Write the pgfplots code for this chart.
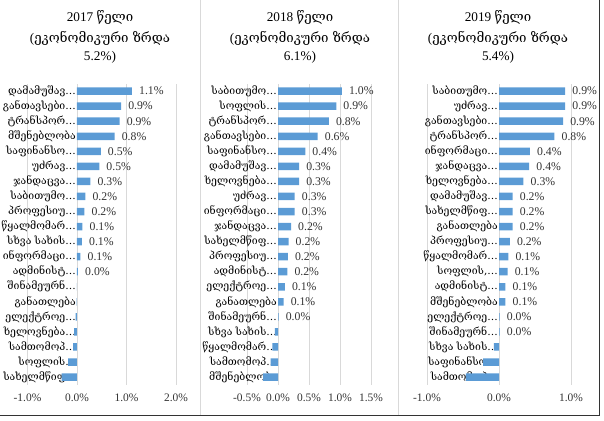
\documentclass[border=0pt]{standalone}
\usepackage{fontspec}
\setmainfont{Liberation Serif}
\newfontfamily\geo{DejaVu Serif}
\usepackage{pgfplots}
\usepackage{pgfplotstable}
\pgfplotsset{compat=1.18}
\definecolor{barblue}{HTML}{5B9BD5}
\definecolor{gridgray}{HTML}{D9D9D9}
\definecolor{txt}{HTML}{333333}

\pgfplotstableread{
i v lab
1 1.11 1.1\%
2 0.89 0.9\%
3 0.86 0.9\%
4 0.76 0.8\%
5 0.48 0.5\%
6 0.45 0.5\%
7 0.27 0.3\%
8 0.17 0.2\%
9 0.15 0.2\%
10 0.11 0.1\%
11 0.10 0.1\%
12 0.07 0.1\%
13 0.02 0.0\%
}\posA
\pgfplotstableread{
i v
14 -0.004
15 -0.01
16 -0.03
17 -0.06
18 -0.08
19 -0.18
20 -0.31
}\negA
\pgfplotstableread{
i v lab
1 1.03 1.0\%
2 0.94 0.9\%
3 0.82 0.8\%
4 0.64 0.6\%
5 0.44 0.4\%
6 0.34 0.3\%
7 0.34 0.3\%
8 0.27 0.3\%
9 0.27 0.3\%
10 0.21 0.2\%
11 0.17 0.2\%
12 0.16 0.2\%
13 0.15 0.2\%
14 0.11 0.1\%
15 0.09 0.1\%
16 0.01 0.0\%
}\posB
\pgfplotstableread{
i v
17 -0.05
18 -0.09
19 -0.12
20 -0.24
}\negB
\pgfplotstableread{
i v lab
1 0.92 0.9\%
2 0.92 0.9\%
3 0.89 0.9\%
4 0.77 0.8\%
5 0.43 0.4\%
6 0.42 0.4\%
7 0.34 0.3\%
8 0.19 0.2\%
9 0.19 0.2\%
10 0.19 0.2\%
11 0.15 0.2\%
12 0.13 0.1\%
13 0.12 0.1\%
14 0.09 0.1\%
15 0.09 0.1\%
16 0.01 0.0\%
17 0.01 0.0\%
}\posC
\pgfplotstableread{
i v
18 -0.07
19 -0.22
20 -0.46
}\negC

\pgfplotsset{panel/.style={
  scale only axis, xbar, bar shift=0pt, bar width=7.5bp,
  ymin=0.5, ymax=20.5, height=301bp,
  anchor=south west,
  ytick={1,...,20}, major tick length=0pt,
  xmajorgrids, grid style={gridgray, line width=0.6bp},
  axis line style={draw=none},
  xticklabel={\pgfmathprintnumber[fixed,fixed zerofill,precision=1]{\tick}\%},
  /pgf/number format/assume math mode=true,
  xticklabel style={font=\fontsize{11.5}{13}\selectfont, text=txt, yshift=-6bp},
  yticklabel style={font=\geo\fontsize{10.5}{12}\selectfont, text=black, inner sep=1bp},
  clip=false,
}}
\pgfplotsset{posbar/.style={fill=barblue, draw=none,
  nodes near coords, point meta=explicit symbolic,
  every node near coord/.append style={font=\fontsize{11.8}{13}\selectfont, text=txt, anchor=west, inner sep=1bp, xshift=6bp}}}
\pgfplotsset{negbar/.style={fill=barblue, draw=none}}

\begin{document}
\begin{tikzpicture}
\useasboundingbox (0bp,0bp) rectangle (604bp,421bp);
\draw[gridgray, line width=0.8bp] (200bp,421bp) -- (200bp,5bp);
\draw[gridgray, line width=0.8bp] (398bp,421bp) -- (398bp,5bp);
\draw[black!80, line width=1bp] (0bp,5bp) -- (599.5bp,5bp) -- (599.5bp,421bp);

% titles
\tikzset{ttl/.style={font=\fontsize{13.3}{16}\selectfont}}
\node[ttl] at (100bp,403bp) {2017 {\geo წელი}};
\node[ttl] at (100bp,382.5bp) {({\geo ეკონომიკური ზრდა}};
\node[ttl] at (100bp,363.5bp) {5.2\%)};
\node[ttl] at (300bp,403bp) {2018 {\geo წელი}};
\node[ttl] at (300bp,382.5bp) {({\geo ეკონომიკური ზრდა}};
\node[ttl] at (300bp,363.5bp) {6.1\%)};
\node[ttl] at (498bp,403bp) {2019 {\geo წელი}};
\node[ttl] at (498bp,382.5bp) {({\geo ეკონომიკური ზრდა}};
\node[ttl] at (498bp,363.5bp) {5.4\%)};

\begin{axis}[panel, at={(27.5bp,36.4bp)}, width=148.5bp,
  xmin=-1, xmax=2, xtick={-1,0,1,2},
  yticklabel style={xshift=49.5bp},
  yticklabels={სახელმწიფ…,სოფლის…,სამთომოპ…,ხელოვნება…,ელექტროე…,განათლება,შინამეურნ…,ადმინისტ…,ინფორმაცი…,სხვა სახის…,წყალმომარ…,პროფესიუ…,საბითუმო…,ჯანდაცვა…,უძრავ…,საფინანსო…,მშენებლობა,ტრანსპორ…,განთავსები…,დამამუშავ…}]
\addplot[posbar] table[x=v,y expr=21-\thisrow{i},meta=lab] {\posA};
\addplot[negbar] table[x=v,y expr=21-\thisrow{i}] {\negA};
\end{axis}

\begin{axis}[panel, at={(247bp,36.4bp)}, width=124bp,
  xmin=-0.5, xmax=1.5, xtick={-0.5,0,0.5,1,1.5},
  yticklabel style={xshift=31bp},
  yticklabels={მშენებლობა,სამთომოპ…,წყალმომარ…,სხვა სახის…,შინამეურნ…,განათლება,ელექტროე…,ადმინისტ…,პროფესიუ…,სახელმწიფ…,ჯანდაცვა…,ინფორმაცი…,უძრავ…,ხელოვნება…,დამამუშავ…,საფინანსო…,განთავსები…,ტრანსპორ…,სოფლის…,საბითუმო…}]
\addplot[posbar] table[x=v,y expr=21-\thisrow{i},meta=lab] {\posB};
\addplot[negbar] table[x=v,y expr=21-\thisrow{i}] {\negB};
\end{axis}

\begin{axis}[panel, at={(427bp,36.4bp)}, width=144bp,
  xmin=-1, xmax=1, xtick={-1,0,1},
  yticklabel style={xshift=72bp},
  yticklabels={სამთომოპ…,საფინანსო…,სხვა სახის…,შინამეურნ…,ელექტროე…,მშენებლობა,ადმინისტ…,{სოფლის,…},წყალმომარ…,პროფესიუ…,განათლება,სახელმწიფ…,დამამუშავ…,ხელოვნება…,ჯანდაცვა…,ინფორმაცი…,ტრანსპორ…,განთავსები…,უძრავ…,საბითუმო…}]
\addplot[posbar] table[x=v,y expr=21-\thisrow{i},meta=lab] {\posC};
\addplot[negbar] table[x=v,y expr=21-\thisrow{i}] {\negC};
\end{axis}
\end{tikzpicture}
\end{document}
